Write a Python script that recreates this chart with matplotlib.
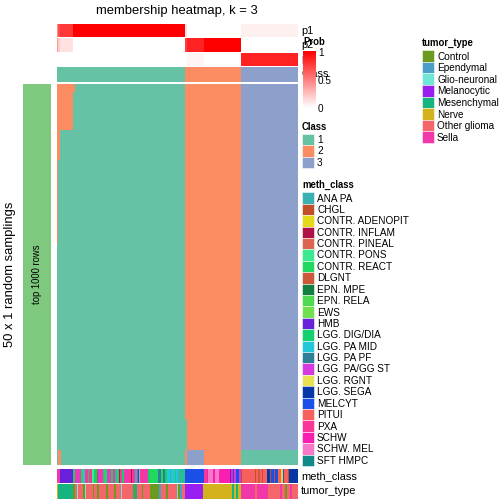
import numpy as np
import matplotlib
matplotlib.use('Agg')
import matplotlib.pyplot as plt
from matplotlib.colors import ListedColormap, LinearSegmentedColormap
from matplotlib.patches import Rectangle

plt.rcParams['font.family'] = ['Liberation Sans', 'DejaVu Sans']

W = H = 504

# ---- data -------------------------------------------------------------
class_labels = [1, 2, 3]
class_colors = ['#66C2A5', '#FC8D62', '#8DA0CB']

# consensus class of each sample (column), as runs (value, count)
class_runs = [(1, 128), (2, 56), (3, 57)]

# membership probabilities, as runs
p1_runs = [(0.45, 1), (0.7, 2), (0.78, 13), (1.0, 112), (0.12, 2), (0.0, 54), (0.06, 57)]
p2_runs = [(0.4, 1), (0.2, 2), (0.12, 13), (0.0, 112), (0.75, 2), (0.86, 17), (1.0, 37), (0.0, 57)]
p3_runs = [(0.0, 128), (0.0, 2), (0.04, 17), (0.0, 37), (0.86, 57)]

# 50 random samplings: (number of rows, class runs across samples)
sampling_rows = [
    (1, [(2, 18), (1, 110), (2, 56), (3, 57)]),
    (5, [(2, 16), (1, 112), (2, 56), (3, 57)]),
    (4, [(2, 3), (1, 125), (2, 56), (3, 57)]),
    (11, [(2, 1), (1, 127), (2, 56), (3, 57)]),
    (23, [(1, 128), (2, 56), (3, 57)]),
    (4, [(1, 130), (2, 54), (3, 57)]),
    (2, [(1, 1), (2, 3), (1, 124), (2, 2), (3, 17), (2, 37), (1, 57)]),
]

meth_levels = ['ANA PA', 'CHGL', 'CONTR. ADENOPIT', 'CONTR. INFLAM', 'CONTR. PINEAL',
               'CONTR. PONS', 'CONTR. REACT', 'DLGNT', 'EPN. MPE', 'EPN. RELA', 'EWS',
               'HMB', 'LGG. DIG/DIA', 'LGG. PA MID', 'LGG. PA PF', 'LGG. PA/GG ST',
               'LGG. RGNT', 'LGG. SEGA', 'MELCYT', 'PITUI', 'PXA', 'SCHW', 'SCHW. MEL',
               'SFT HMPC']
meth_colors = ['#3AB0B0', '#C0502A', '#E6D81A', '#B0104A', '#DC6450', '#3CE890',
               '#22D860', '#CC5A3A', '#128040', '#50D850', '#70E050', '#6A20D8',
               '#16D070', '#22C8D8', '#2E8098', '#D838E0', '#E8E050', '#0838A8',
               '#1A50E8', '#F86060', '#F83898', '#F820B0', '#F878C8', '#108888']

meth_runs = [
    ('PXA', 2), ('LGG. PA/GG ST', 1), ('HMB', 13), ('LGG. DIG/DIA', 2), ('PXA', 2),
    ('LGG. PA/GG ST', 2), ('PXA', 2), ('CONTR. REACT', 2), ('LGG. PA MID', 2), ('PXA', 3),
    ('LGG. DIG/DIA', 1), ('PXA', 3), ('CONTR. PONS', 2), ('LGG. DIG/DIA', 3), ('CHGL', 1),
    ('LGG. PA/GG ST', 2), ('PXA', 3), ('ANA PA', 1), ('CONTR. REACT', 3), ('LGG. PA/GG ST', 2),
    ('PXA', 2), ('LGG. DIG/DIA', 2), ('PXA', 2), ('ANA PA', 2), ('CONTR. REACT', 2),
    ('CONTR. INFLAM', 1), ('PXA', 2), ('LGG. DIG/DIA', 2), ('PXA', 3), ('LGG. PA/GG ST', 1),
    ('PXA', 3), ('CONTR. INFLAM', 1), ('PXA', 3), ('ANA PA', 2), ('LGG. PA/GG ST', 1),
    ('HMB', 1), ('CONTR. PONS', 1), ('PXA', 4), ('LGG. PA/GG ST', 1), ('PXA', 3),
    ('LGG. DIG/DIA', 2), ('CONTR. REACT', 8), ('LGG. PA PF', 3), ('CONTR. REACT', 2),
    ('LGG. PA PF', 2), ('LGG. DIG/DIA', 2), ('LGG. PA MID', 3), ('ANA PA', 1),
    ('LGG. PA MID', 4), ('LGG. DIG/DIA', 1), ('LGG. PA MID', 2), ('ANA PA', 3),
    ('LGG. DIG/DIA', 2), ('ANA PA', 2),
    ('MELCYT', 19), ('PXA', 3), ('SCHW', 1), ('SCHW. MEL', 5), ('SCHW', 2), ('SCHW. MEL', 4),
    ('SCHW', 11), ('HMB', 1), ('SCHW', 2), ('MELCYT', 1), ('LGG. PA/GG ST', 2), ('MELCYT', 3),
    ('LGG. PA/GG ST', 2),
    ('CHGL', 1), ('PITUI', 13), ('CHGL', 1), ('PITUI', 2), ('DLGNT', 2), ('PITUI', 2),
    ('CHGL', 1), ('PITUI', 4), ('LGG. SEGA', 3), ('CHGL', 1), ('MELCYT', 3), ('CHGL', 1),
    ('MELCYT', 3), ('PITUI', 3), ('CONTR. ADENOPIT', 2), ('MELCYT', 1), ('PITUI', 4),
    ('CHGL', 1), ('LGG. SEGA', 9),
]

tumor_levels = ['Control', 'Ependymal', 'Glio-neuronal', 'Melanocytic', 'Mesenchymal',
                'Nerve', 'Other glioma', 'Sella']
tumor_colors = ['#6B9A1E', '#4A9FC8', '#6FE6D6', '#9B1EF0', '#16B47E', '#D4B21E',
                '#F4666A', '#F038A8']

tumor_runs = [
    ('Nerve', 1), ('Mesenchymal', 15), ('Control', 2), ('Other glioma', 2), ('Glio-neuronal', 1),
    ('Other glioma', 5), ('Control', 2), ('Glio-neuronal', 1), ('Other glioma', 7), ('Control', 1),
    ('Other glioma', 3), ('Control', 2), ('Other glioma', 7), ('Control', 2), ('Other glioma', 6),
    ('Control', 2), ('Other glioma', 5), ('Glio-neuronal', 1), ('Other glioma', 11),
    ('Mesenchymal', 2), ('Control', 1), ('Mesenchymal', 1), ('Other glioma', 5), ('Control', 1),
    ('Other glioma', 7), ('Control', 9), ('Ependymal', 2), ('Other glioma', 5), ('Control', 2),
    ('Other glioma', 9), ('Glio-neuronal', 1), ('Control', 2), ('Ependymal', 2),
    ('Other glioma', 3),
    ('Melanocytic', 18), ('Nerve', 29), ('Mesenchymal', 2), ('Nerve', 2), ('Mesenchymal', 2),
    ('Nerve', 3),
    ('Sella', 14), ('Other glioma', 2), ('Sella', 11), ('Other glioma', 12), ('Sella', 2),
    ('Other glioma', 3), ('Control', 2), ('Other glioma', 3), ('Sella', 2), ('Other glioma', 6),
]


def expand(runs):
    return [v for v, n in runs for _ in range(n)]


# ---- build matrices ---------------------------------------------------
cls = np.array(expand(class_runs))
probs = [np.array(expand(r)) for r in (p1_runs, p2_runs, p3_runs)]
member = np.array([expand(runs) for n, runs in sampling_rows for _ in range(n)])
meth_idx = np.array([meth_levels.index(v) for v in expand(meth_runs)])
tumor_idx = np.array([tumor_levels.index(v) for v in expand(tumor_runs)])

fig = plt.figure(figsize=(W / 72, H / 72), dpi=72)


def px_axes(x0, y0, x1, y1):
    ax = fig.add_axes([x0 / W, 1 - y1 / H, (x1 - x0) / W, (y1 - y0) / H])
    ax.set_axis_off()
    return ax


class_cmap = ListedColormap(class_colors)
prob_cmap = LinearSegmentedColormap.from_list('prob', ['white', 'red'])

# probability rows
for i, (y0, y1) in enumerate([(24, 37.5), (38.3, 51.8), (52.7, 66.2)]):
    ax = px_axes(57, y0, 298, y1)
    ax.imshow(probs[i][None, :], aspect='auto', cmap=prob_cmap, vmin=0, vmax=1,
              interpolation='nearest')

# class row
ax = px_axes(57, 67.3, 298, 81.7)
ax.imshow(cls[None, :] - 1, aspect='auto', cmap=class_cmap, vmin=-0.5, vmax=2.5,
          interpolation='nearest')

# main membership heatmap
ax = px_axes(57, 84, 298, 465)
ax.imshow(member - 1, aspect='auto', cmap=class_cmap, vmin=-0.5, vmax=2.5,
          interpolation='nearest')

# left split bar
ax = px_axes(22.7, 84, 51, 465)
ax.add_patch(Rectangle((0, 0), 1, 1, color='#7FC97F', transform=ax.transAxes))
ax.text(0.5, 0.5, 'top 1000 rows', rotation=90, ha='center', va='center', fontsize=9.5,
        transform=ax.transAxes)

# bottom annotations
ax = px_axes(57, 469, 298, 483.3)
ax.imshow(meth_idx[None, :], aspect='auto', cmap=ListedColormap(meth_colors),
          vmin=-0.5, vmax=len(meth_colors) - 0.5, interpolation='nearest')
ax = px_axes(57, 484.3, 298, 499)
ax.imshow(tumor_idx[None, :], aspect='auto', cmap=ListedColormap(tumor_colors),
          vmin=-0.5, vmax=len(tumor_colors) - 0.5, interpolation='nearest')

# overlay for texts and legends
ov = px_axes(0, 0, W, H)
ov.set_xlim(0, W)
ov.set_ylim(H, 0)

ov.text(177, 11, 'membership heatmap, k = 3', ha='center', va='center', fontsize=13)
ov.text(10, 274.5, '50 x 1 random samplings', rotation=90, ha='center', va='center',
        fontsize=13)
for name, y in [('p1', 31), ('p2', 45), ('p3', 59), ('Class', 74)]:
    ov.text(301, y, name, ha='left', va='center', fontsize=11)
ov.text(301, 476, 'meth_class', ha='left', va='center', fontsize=11)
ov.text(301, 491.5, 'tumor_type', ha='left', va='center', fontsize=11)

# Prob colour bar legend
cax = px_axes(303, 51, 316, 108)
cax.imshow(np.linspace(1, 0, 100)[:, None], aspect='auto', cmap=prob_cmap, vmin=0, vmax=1)
ov.text(303, 42, 'Prob', ha='left', va='center', fontsize=9.5, fontweight='bold')
for v, lab in [(1, '1'), (0.5, '0.5'), (0, '0')]:
    yy = 108 - v * 56
    ov.text(318, yy + 1, lab, ha='left', va='center', fontsize=10)
    if v > 0:
        ov.plot([303, 305.5], [yy, yy], color='white', lw=0.8)
        ov.plot([313.5, 316], [yy, yy], color='white', lw=0.8)


def cat_legend(x, y_title, y_first, step, title, labels, colors):
    ov.text(x, y_title, title, ha='left', va='center', fontsize=9.5, fontweight='bold')
    for i, (lab, col) in enumerate(zip(labels, colors)):
        yc = y_first + i * step
        ov.add_patch(Rectangle((x, yc - step / 2), 12, step, facecolor=col,
                               edgecolor='white', lw=0.5))
        ov.text(x + 15, yc + 0.5, lab, ha='left', va='center', fontsize=10)


cat_legend(302, 127, 139.5, 11.5, 'Class', [str(c) for c in class_labels], class_colors)
cat_legend(302, 185, 198, 11.4, 'meth_class', meth_levels, meth_colors)
cat_legend(422, 43, 56, 11.6, 'tumor_type', tumor_levels, tumor_colors)

fig.savefig('out.png', dpi=72)
